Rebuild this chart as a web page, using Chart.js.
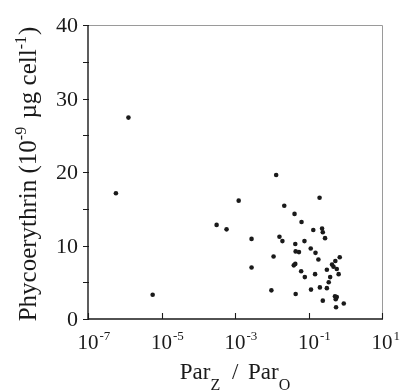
<!DOCTYPE html>
<html>
<head>
<meta charset="utf-8">
<script src="https://cdn.jsdelivr.net/npm/chart.js@4/dist/chart.umd.min.js"></script>
<style>
  html, body { margin: 0; padding: 0; background: #fff; }
  canvas { display: block; }
</style>
</head>
<body>
<canvas id="peChart" width="401" height="391"></canvas>
<script>
// Par_Z / Par_O (x, log scale) and phycoerythrin per cell (y)
const parRatio = [
  1.26e-6, 5.75e-7, 5.75e-6, 3.16e-4, 5.89e-4, 1.26e-3, 2.82e-3, 2.82e-3, 9.77e-3, 1.12e-2,
  1.32e-2, 1.62e-2, 1.95e-2, 2.19e-2, 4.17e-2, 4.37e-2, 3.98e-2, 4.37e-2, 4.47e-2, 5.50e-2,
  4.47e-2, 6.46e-2, 6.31e-2, 7.76e-2, 7.94e-2, 0.115, 0.117, 0.135, 0.155, 0.151,
  0.186, 0.200, 0.204, 0.234, 0.245, 0.245, 0.282, 0.316, 0.316, 0.355,
  0.389, 0.437, 0.479, 0.537, 0.589, 0.661, 0.708, 0.525, 0.589, 0.550,
  0.562, 0.912,
];
const phycoerythrin = [
  27.4, 17.1, 3.3, 12.8, 12.2, 16.1, 10.9, 7.0, 3.9, 8.5,
  19.6, 11.2, 10.6, 15.4, 14.3, 10.2, 7.3, 7.5, 9.2, 9.1,
  3.4, 13.2, 6.5, 10.6, 5.7, 9.6, 4.0, 12.1, 9.0, 6.1,
  8.1, 16.5, 4.3, 12.3, 11.8, 2.5, 11.0, 4.2, 6.7, 5.0,
  5.7, 7.4, 7.1, 7.9, 6.8, 6.1, 8.4, 3.1, 3.0, 2.7,
  1.6, 2.1,
];
const xTickExps = [-7, -5, -3, -1, 1];
const yTicks = [0, 10, 20, 30, 40];
const yMinorTicks = [5, 15, 25, 35];

const FONT = "'Liberation Serif', 'Times New Roman', serif";
const INK = "#1a1a1a";

// draws a run of text pieces (with super/subscripts) left to right, centred on x
function drawRich(ctx, parts, x, y) {
  let total = 0;
  for (const p of parts) {
    ctx.font = `${p.size}px ${FONT}`;
    total += ctx.measureText(p.t).width + (p.gap || 0);
  }
  let cx = x - total / 2;
  ctx.textAlign = "left";
  ctx.textBaseline = "alphabetic";
  for (const p of parts) {
    ctx.font = `${p.size}px ${FONT}`;
    ctx.fillText(p.t, cx, y + (p.dy || 0));
    cx += ctx.measureText(p.t).width + (p.gap || 0);
  }
}

const axesPlugin = {
  id: "paperAxes",
  afterDraw(chart) {
    const { ctx, chartArea: a, scales } = chart;
    const x = scales.x;
    const y = scales.y;
    ctx.save();

    // frame: light top/right, dark left/bottom
    ctx.strokeStyle = "#9a9a9a";
    ctx.lineWidth = 1;
    ctx.beginPath();
    ctx.moveTo(a.left, a.top + 0.5);
    ctx.lineTo(a.right + 0.5, a.top + 0.5);
    ctx.lineTo(a.right + 0.5, a.bottom);
    ctx.stroke();

    ctx.strokeStyle = INK;
    ctx.lineWidth = 1.4;
    ctx.beginPath();
    ctx.moveTo(a.left, a.top);
    ctx.lineTo(a.left, a.bottom);
    ctx.lineTo(a.right + 1, a.bottom);
    ctx.stroke();

    // y ticks (outward)
    ctx.lineWidth = 1.1;
    ctx.beginPath();
    for (const v of yTicks.concat(yMinorTicks)) {
      const py = Math.round(y.getPixelForValue(v)) + 0.5;
      ctx.moveTo(a.left - 5, py);
      ctx.lineTo(a.left + 1, py);
    }
    // x ticks (inward)
    for (const e of xTickExps) {
      const px = Math.round(x.getPixelForValue(Math.pow(10, e))) + 0.5;
      ctx.moveTo(px, a.bottom);
      ctx.lineTo(px, a.bottom - 6);
    }
    ctx.stroke();

    ctx.fillStyle = INK;

    // y tick labels
    ctx.font = `22px ${FONT}`;
    ctx.textAlign = "right";
    ctx.textBaseline = "alphabetic";
    for (const v of yTicks) {
      ctx.fillText(String(v), a.left - 10, y.getPixelForValue(v) + 7);
    }

    // x tick labels 10^e
    for (const e of xTickExps) {
      const px = x.getPixelForValue(Math.pow(10, e));
      ctx.font = `21px ${FONT}`;
      ctx.textAlign = "center";
      ctx.fillText("10", px, a.bottom + 30);
      const w = ctx.measureText("10").width;
      ctx.font = `13px ${FONT}`;
      ctx.textAlign = "left";
      ctx.fillText(e < 0 ? "-" + Math.abs(e) : String(e), px + w / 2 + 1, a.bottom + 21);
    }

    // x title
    drawRich(ctx, [
      { t: "Par", size: 23 },
      { t: "Z", size: 16, dy: 11, gap: 6 },
      { t: " / ", size: 23, gap: 4 },
      { t: "Par", size: 23 },
      { t: "O", size: 16, dy: 11 },
    ], (a.left + a.right) / 2, 379);

    // y title, rotated
    ctx.translate(36, 174);
    ctx.rotate(-Math.PI / 2);
    drawRich(ctx, [
      { t: "Phycoerythrin (10", size: 25 },
      { t: "-9", size: 16, dy: -10, gap: 2 },
      { t: " \u00b5g cell", size: 25 },
      { t: "-1", size: 16, dy: -10, gap: 1 },
      { t: ")", size: 25 },
    ], 0, 0);

    ctx.restore();
  },
};

const points = parRatio.map((v, i) => ({ x: v, y: phycoerythrin[i] }));

new Chart(document.getElementById("peChart"), {
  type: "scatter",
  data: {
    datasets: [{
      data: points,
      backgroundColor: INK,
      borderWidth: 0,
      pointRadius: 2.3,
    }],
  },
  options: {
    responsive: false,
    animation: false,
    devicePixelRatio: 1,
    layout: { padding: { left: 88, top: 25, right: 19, bottom: 72 } },
    plugins: { legend: { display: false }, tooltip: { enabled: false } },
    scales: {
      x: { type: "logarithmic", min: 1e-7, max: 10, display: false },
      y: { type: "linear", min: 0, max: 40, display: false },
    },
  },
  plugins: [axesPlugin],
});
</script>
</body>
</html>
